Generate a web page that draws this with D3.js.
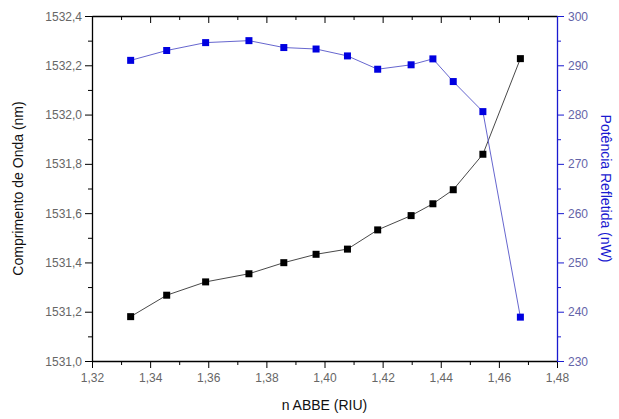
<!DOCTYPE html>
<html>
<head>
<meta charset="utf-8">
<script src="https://cdn.jsdelivr.net/npm/d3@7"></script>
<style>
  html, body { margin: 0; padding: 0; background: #fff; overflow: hidden; }
  svg { display: block; font-family: Arial, "Liberation Sans", sans-serif; }
</style>
</head>
<body>
<div id="chart"></div>
<script>
// n ABBE (RIU) values
const nAbbe = [1.3333, 1.3457, 1.3591, 1.3740, 1.3860, 1.3971, 1.4079, 1.4183, 1.4298, 1.4373, 1.4443, 1.4545, 1.4674];
// Comprimento de Onda (nm)
const wavelength = [1531.180, 1531.267, 1531.321, 1531.354, 1531.399, 1531.433, 1531.454, 1531.532, 1531.590, 1531.638, 1531.695, 1531.839, 1532.227];
// Potência Refletida (nW)
const power = [291.0, 293.0, 294.6, 295.0, 293.6, 293.3, 291.9, 289.2, 290.1, 291.3, 286.7, 280.6, 238.9];

const xTicks = [1.32, 1.34, 1.36, 1.38, 1.40, 1.42, 1.44, 1.46, 1.48];
const yLeftTicks = [1531.0, 1531.2, 1531.4, 1531.6, 1531.8, 1532.0, 1532.2, 1532.4];
const yRightTicks = [230, 240, 250, 260, 270, 280, 290, 300];

const width = 619, height = 419;
const margin = { top: 16, right: 62, bottom: 58, left: 92 };
const innerWidth = width - margin.left - margin.right;
const innerHeight = height - margin.top - margin.bottom;

const blue = "#1a1ad0";

const svg = d3.select("#chart")
    .append("svg")
    .attr("width", width)
    .attr("height", height);

const inner = svg.append("g")
    .attr("transform", `translate(${margin.left},${margin.top})`);

const xScale = d3.scaleLinear().domain([1.32, 1.48]).range([0, innerWidth]);
const yLeft = d3.scaleLinear().domain([1531.0, 1532.4]).range([innerHeight, 0]);
const yRight = d3.scaleLinear().domain([230, 300]).range([innerHeight, 0]);

const comma = (f) => (d) => d3.format(f)(d).replace(".", ",");

// minor ticks (no labels)
const minorX = d3.range(1.33, 1.48, 0.02);
const minorL = d3.range(1531.1, 1532.4, 0.2);
const minorR = d3.range(235, 300, 10);

// strip the empty labels and domain of a minor-tick axis
const minorOnly = g => {
    g.select(".domain").remove();
    g.selectAll(".tick text").remove();
};

// bottom axis
inner.append("g")
    .attr("transform", `translate(0,${innerHeight})`)
    .call(d3.axisBottom(xScale).tickValues(minorX).tickSize(4))
    .call(minorOnly);
const bottomG = inner.append("g")
    .attr("transform", `translate(0,${innerHeight})`)
    .call(d3.axisBottom(xScale).tickValues(xTicks).tickSize(7).tickSizeOuter(0).tickFormat(comma(".2f")));
bottomG.selectAll(".tick text").attr("dy", null).attr("y", 21);

// top axis (ticks inward)
inner.append("g")
    .call(d3.axisTop(xScale).tickValues(minorX).tickSize(-4))
    .call(minorOnly);
inner.append("g")
    .call(d3.axisTop(xScale).tickValues(xTicks).tickSize(-7).tickSizeOuter(0))
    .call(g => g.selectAll(".tick text").remove());

// left axis
inner.append("g")
    .call(d3.axisLeft(yLeft).tickValues(minorL).tickSize(4))
    .call(minorOnly);
const leftG = inner.append("g")
    .call(d3.axisLeft(yLeft).tickValues(yLeftTicks).tickSize(7).tickSizeOuter(0).tickPadding(3).tickFormat(comma(".1f")));
leftG.selectAll(".tick text").attr("dy", null).attr("y", 4);

// right axis (blue)
const rightG = inner.append("g")
    .attr("transform", `translate(${innerWidth},0)`);
rightG.append("g")
    .call(d3.axisRight(yRight).tickValues(minorR).tickSize(4))
    .call(minorOnly);
rightG.append("g")
    .call(d3.axisRight(yRight).tickValues(yRightTicks).tickSize(7).tickSizeOuter(0).tickPadding(4))
    .call(g => g.selectAll(".tick text").attr("dy", null).attr("y", 4));

// tick label styling
inner.selectAll(".tick text")
    .attr("fill", "#666")
    .attr("font-size", 12)
    .attr("font-family", "Arial, 'Liberation Sans', sans-serif");
rightG.selectAll("line, path").attr("stroke", blue);
rightG.selectAll("text").attr("fill", "#6464a8");

inner.selectAll(".domain").attr("stroke-width", 1.3);

// lines
const lineLeft = d3.line().x((d, i) => xScale(nAbbe[i])).y(d => yLeft(d));
const lineRight = d3.line().x((d, i) => xScale(nAbbe[i])).y(d => yRight(d));

inner.append("path")
    .datum(wavelength)
    .attr("d", lineLeft)
    .attr("fill", "none")
    .attr("stroke", "#333")
    .attr("stroke-width", 0.9);

inner.append("path")
    .datum(power)
    .attr("d", lineRight)
    .attr("fill", "none")
    .attr("stroke", "#5555c8")
    .attr("stroke-width", 0.9);

// markers
const s = 7;
inner.selectAll(".mk-black")
    .data(wavelength)
    .join("rect")
    .attr("class", "mk-black")
    .attr("x", (d, i) => xScale(nAbbe[i]) - s / 2)
    .attr("y", d => yLeft(d) - s / 2)
    .attr("width", s)
    .attr("height", s)
    .attr("fill", "#000");

inner.selectAll(".mk-blue")
    .data(power)
    .join("rect")
    .attr("class", "mk-blue")
    .attr("x", (d, i) => xScale(nAbbe[i]) - s / 2)
    .attr("y", d => yRight(d) - s / 2)
    .attr("width", s)
    .attr("height", s)
    .attr("fill", "#0000e0");

// axis titles
svg.append("text")
    .text("n ABBE (RIU)")
    .attr("x", margin.left + innerWidth / 2)
    .attr("y", 410)
    .attr("text-anchor", "middle")
    .attr("font-size", 14)
    .attr("fill", "#111");

svg.append("text")
    .text("Comprimento de Onda (nm)")
    .attr("transform", `translate(23,${margin.top + innerHeight / 2}) rotate(-90)`)
    .attr("text-anchor", "middle")
    .attr("font-size", 14)
    .attr("fill", "#111");

svg.append("text")
    .text("Potência Refletida (nW)")
    .attr("transform", `translate(601,${margin.top + innerHeight / 2}) rotate(90)`)
    .attr("text-anchor", "middle")
    .attr("font-size", 14)
    .attr("fill", blue);
</script>
</body>
</html>
